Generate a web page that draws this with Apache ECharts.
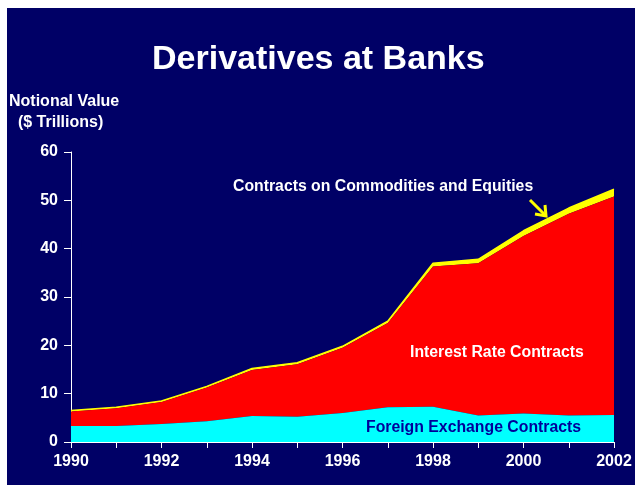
<!DOCTYPE html>
<html><head><meta charset="utf-8">
<script src="https://cdn.jsdelivr.net/npm/echarts@6/dist/echarts.min.js"></script>
<style>html,body{margin:0;padding:0;background:#fff}#c{width:635px;height:485px}</style>
</head><body><div id="c"></div>
<script>
const years = ['1990','1991','1992','1993','1994','1995','1996','1997','1998','1999','2000','2001','2002'];
const foreignExchange = [3.3,3.3,3.7,4.3,5.4,5.2,6.0,7.2,7.3,5.5,5.9,5.5,5.6];
const interestRate = [3.0,3.7,4.6,7.0,9.5,10.9,13.5,17.4,29.0,31.5,36.7,41.7,45.2];
const commodities = [0.2,0.2,0.2,0.2,0.3,0.3,0.3,0.4,0.7,0.8,1.1,1.2,1.5];
const yTicks = [0,10,20,30,40,50,60];

const font = '"Liberation Sans", Arial, sans-serif';
const chart = echarts.init(document.getElementById('c'), null, {renderer:'canvas'});
const lbl = {color:'#fff', fontFamily:font, fontWeight:'bold', fontSize:16};
chart.setOption({
  backgroundColor:'#fff',
  animation:false,
  graphic:[
    {type:'rect', z:-10, shape:{x:7,y:8,width:628,height:477}, style:{fill:'#000066'}},
    {type:'text', z:100, left:152, top:43, style:{text:'Derivatives at Banks', fill:'#fff', font:'bold 34px '+font}},
    {type:'text', z:100, left:9, top:91, style:{text:'Notional Value\n  ($ Trillions)', fill:'#fff', font:'bold 16px '+font, lineHeight:21}},
    {type:'text', z:100, left:233, top:179, style:{text:'Contracts on Commodities and Equities', fill:'#fff', font:'bold 15.8px '+font}},
    {type:'text', z:100, left:410, top:345, style:{text:'Interest Rate Contracts', fill:'#fff', font:'bold 15.8px '+font}},
    {type:'text', z:100, left:366, top:420, style:{text:'Foreign Exchange Contracts', fill:'#000099', font:'bold 15.8px '+font}},
    {type:'polyline', z:100, shape:{points:[[530,200],[545,215]]}, style:{stroke:'#ffff00', lineWidth:3}},
    {type:'polyline', z:100, shape:{points:[[535,214],[546,216],[545,205]]}, style:{stroke:'#ffff00', lineWidth:3, fill:null}}
  ],
  grid:{left:71, right:21, top:152, bottom:43},
  xAxis:{
    type:'category', data:years, boundaryGap:false,
    axisLine:{lineStyle:{color:'#fff', width:1}},
    axisTick:{show:true, interval:0, length:6, lineStyle:{color:'#fff'}},
    axisLabel:Object.assign({}, lbl, {interval:1, margin:12}),
    splitLine:{show:false}
  },
  yAxis:{
    type:'value', min:0, max:60, interval:10,
    axisLine:{show:true, lineStyle:{color:'#fff', width:1}},
    axisTick:{show:true, length:7, lineStyle:{color:'#fff'}},
    axisLabel:Object.assign({}, lbl, {margin:13}),
    splitLine:{show:false}
  },
  series:[
    {name:'Foreign Exchange Contracts', type:'line', stack:'t', data:foreignExchange, symbol:'none',
     lineStyle:{width:0}, areaStyle:{color:'#00ffff', opacity:1}, z:3},
    {name:'Interest Rate Contracts', type:'line', stack:'t', data:interestRate, symbol:'none',
     lineStyle:{width:0}, areaStyle:{color:'#ff0000', opacity:1}, z:2},
    {name:'Contracts on Commodities and Equities', type:'line', stack:'t', data:commodities, symbol:'none',
     lineStyle:{width:1.5, color:'#ffff00'}, areaStyle:{color:'#ffff00', opacity:1}, z:1}
  ]
});
</script></body></html>
